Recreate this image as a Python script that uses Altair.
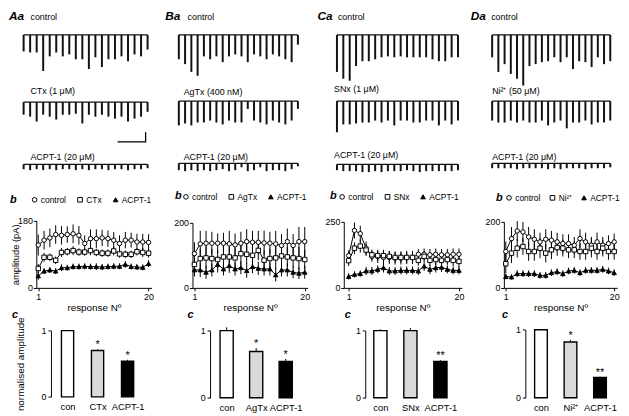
import altair as alt
import pandas as pd

FONT = "Liberation Sans"
W, H = 621, 408
SX = 621 / 628
SY = 408 / 414

resp = list(range(1, 21))

# ---------------- traces: spike depth per response ----------------
A_tr_control = [17, 18, 18, 37, 22, 18, 22, 20, 25, 25, 35, 23, 33, 25, 25, 22, 27, 20, 22, 15]
A_tr_drug = [13, 15, 20, 13, 15, 18, 13, 13, 12, 22, 13, 15, 13, 15, 17, 15, 20, 17, 15, 10]
A_tr_acpt = [5, 6, 5, 6, 5, 6, 5, 5, 6, 5, 6, 5, 5, 6, 5, 5, 6, 5, 5, 4]
B_tr_control = [25, 30, 38, 42, 22, 25, 22, 28, 22, 20, 22, 28, 20, 22, 25, 20, 22, 25, 28, 10]
B_tr_drug = [25, 23, 25, 22, 22, 20, 22, 24, 20, 22, 22, 8, 20, 22, 24, 20, 22, 24, 20, 8]
B_tr_acpt = [7, 8, 7, 8, 7, 8, 7, 6, 8, 7, 4, 8, 7, 4, 8, 7, 7, 8, 6, 3]
C_tr_control = [38, 45, 47, 32, 27, 27, 25, 23, 22, 23, 22, 23, 23, 23, 23, 25, 27, 27, 23, 23]
C_tr_drug = [32, 24, 24, 23, 22, 22, 20, 22, 20, 25, 20, 20, 22, 22, 20, 20, 25, 20, 24, 20]
C_tr_acpt = [6, 7, 7, 7, 8, 8, 7, 8, 7, 7, 7, 6, 7, 8, 7, 7, 7, 7, 7, 6]
D_tr_control = [23, 38, 30, 40, 45, 52, 32, 30, 28, 27, 23, 28, 23, 35, 27, 28, 33, 23, 30, 27]
D_tr_drug = [20, 22, 22, 20, 22, 20, 22, 22, 20, 25, 22, 20, 28, 22, 22, 20, 24, 22, 22, 20]
D_tr_acpt = [5, 5, 5, 5, 6, 5, 5, 5, 5, 6, 5, 6, 5, 5, 5, 6, 5, 5, 5, 4]

# scale bar (in CTx trace units)
sb_x = [15.4, 19.7, 19.7]
sb_y = [41, 41, 31]

# ---------------- amplitude vs response (pA) ----------------
A_ctrl = [115, 128, 134, 143, 141, 143, 145, 141, 119, 132, 132, 134, 132, 128, 119, 128, 128, 123, 123, 122]
A_ctrl_err = [28, 25, 25, 25, 25, 22, 25, 25, 22, 25, 25, 22, 22, 22, 22, 22, 20, 22, 22, 22]
A_drug = [52, 82, 82, 74, 95, 97, 100, 96, 96, 100, 95, 93, 93, 99, 91, 90, 90, 97, 95, 93]
A_drug_err = [12, 12, 10, 10, 12, 10, 12, 10, 10, 12, 10, 10, 10, 12, 10, 10, 10, 10, 12, 12]
A_acpt = [32, 45, 48, 45, 54, 54, 57, 57, 58, 57, 57, 56, 57, 58, 58, 63, 57, 56, 55, 65]
A_acpt_err = [10, 8, 8, 8, 9, 8, 8, 8, 8, 8, 9, 8, 8, 8, 8, 9, 8, 8, 8, 9]

B_ctrl = [105, 135, 137, 137, 137, 137, 135, 132, 137, 142, 140, 140, 138, 137, 135, 130, 142, 130, 142, 142]
B_ctrl_err = [35, 40, 38, 35, 30, 32, 40, 35, 35, 38, 35, 35, 38, 35, 40, 35, 40, 35, 45, 45]
B_drug = [72, 90, 92, 90, 87, 95, 95, 92, 105, 103, 100, 115, 85, 90, 92, 98, 95, 92, 90, 87]
B_drug_err = [30, 30, 35, 30, 28, 35, 30, 30, 35, 30, 35, 30, 30, 30, 35, 30, 30, 30, 35, 30]
B_acpt = [55, 55, 48, 55, 72, 58, 68, 58, 62, 53, 65, 60, 58, 58, 40, 55, 55, 48, 45, 48]
B_acpt_err = [20, 22, 20, 20, 25, 20, 22, 20, 20, 22, 20, 20, 20, 20, 20, 20, 20, 18, 18, 20]

C_ctrl = [122, 217, 205, 150, 119, 119, 115, 115, 113, 113, 115, 115, 127, 127, 125, 127, 125, 125, 127, 127]
C_ctrl_err = [20, 30, 30, 25, 20, 25, 25, 25, 25, 25, 25, 25, 20, 22, 22, 22, 22, 22, 22, 22]
C_drug = [103, 150, 158, 143, 125, 122, 122, 119, 115, 115, 115, 115, 104, 119, 104, 107, 104, 107, 104, 100]
C_drug_err = [20, 22, 25, 22, 20, 20, 22, 20, 20, 20, 20, 20, 20, 20, 20, 20, 20, 20, 22, 22]
C_acpt = [43, 51, 54, 64, 64, 70, 76, 64, 64, 66, 66, 66, 64, 82, 70, 76, 78, 70, 66, 66]
C_acpt_err = [12, 12, 12, 15, 15, 15, 18, 15, 15, 15, 15, 15, 15, 18, 18, 18, 18, 15, 15, 15]

D_ctrl = [110, 149, 172, 169, 154, 147, 139, 147, 144, 139, 134, 134, 129, 149, 139, 129, 139, 129, 134, 139]
D_ctrl_err = [30, 35, 30, 30, 30, 30, 28, 30, 28, 28, 28, 28, 25, 28, 28, 25, 28, 25, 25, 25]
D_drug = [73, 105, 120, 125, 110, 110, 120, 105, 115, 122, 120, 115, 115, 110, 110, 120, 110, 120, 110, 110]
D_drug_err = [30, 30, 28, 25, 28, 28, 30, 28, 28, 25, 25, 25, 25, 25, 25, 28, 25, 25, 25, 25]
D_acpt = [34, 33, 43, 43, 43, 43, 38, 38, 46, 49, 43, 51, 53, 46, 53, 53, 53, 56, 51, 46]
D_acpt_err = [8, 8, 10, 10, 10, 10, 10, 10, 10, 10, 10, 10, 10, 10, 10, 10, 10, 10, 10, 10]

# ---------------- normalised amplitude bars ----------------
A_cats = ["con", "CTx", "ACPT-1"]
A_bar = [1.0, 0.70, 0.54]
A_bar_err = [0.01, 0.02, 0.02]
A_sig = ["", "*", "*"]
B_cats = ["con", "AgTx", "ACPT-1"]
B_bar = [1.0, 0.69, 0.54]
B_bar_err = [0.05, 0.05, 0.04]
B_sig = ["", "*", "*"]
C_cats = ["con", "SNx", "ACPT-1"]
C_bar = [1.0, 1.0, 0.54]
C_bar_err = [0.02, 0.04, 0.02]
C_sig = ["", "", "**"]
D_cats = ["con", "Ni²⁺", "ACPT-1"]
D_bar = [1.0, 0.82, 0.30]
D_bar_err = [0.01, 0.03, 0.01]
D_sig = ["", "*", "**"]


def PX(v):
    return (v - 1) * SX


def PY(v):
    return (v - 2) * SY


dummy = pd.DataFrame({"a": [0]})
layers = []


def text(label, x, y, size=9, bold=False, italic=False):
    mk = dict(text=label, font=FONT, fontSize=size, align="left", baseline="middle", color="black")
    if bold:
        mk["fontWeight"] = "bold"
    if italic:
        mk["fontStyle"] = "italic"
    layers.append(alt.Chart(dummy).mark_text(**mk).encode(x=alt.value(PX(x)), y=alt.value(PY(y))))


def trace(amps, x1, x20, base):
    df = pd.DataFrame({"i": resp, "amp": amps, "zero": [0] * 20})
    xs = alt.Scale(domain=[1, 20], range=[PX(x1), PX(x20)], nice=False, zero=False)
    ys = alt.Scale(domain=[0, 50], range=[PY(base), PY(base) + 50 * SY], nice=False, zero=False)
    c = alt.Chart(df)
    layers.append(c.mark_line(color="#111", strokeWidth=1.2).encode(
        x=alt.X("i:Q", scale=xs, axis=None), y=alt.Y("zero:Q", scale=ys, axis=None)))
    layers.append(c.mark_rule(color="#111", strokeWidth=2).encode(
        x=alt.X("i:Q", scale=xs, axis=None), y=alt.Y("zero:Q", scale=ys, axis=None), y2="amp:Q"))
    return xs, ys


def line_panel(names, vals, errs, ymax, axis_x, px1, px20, y0, ytop, leg_x, leg_y, ytitle=None, colpad=8):
    rows = []
    for n, v, e in zip(names, vals, errs):
        for i, a, b in zip(resp, v, e):
            rows.append({"series": n, "i": i, "v": a, "lo": a - b, "hi": a + b})
    df = pd.DataFrame(rows)
    unit = (px20 - px1) / 19
    dmin = 1 - (px1 - axis_x) / unit
    dmax = 20 + 3 / unit
    xs = alt.Scale(domain=[dmin, dmax], range=[PX(axis_x), PX(px20 + 3)], nice=False, zero=False)
    ys = alt.Scale(domain=[0, ymax], range=[PY(y0), PY(ytop)], nice=False, zero=False)
    xaxis = alt.Axis(orient="bottom", offset=PY(y0) - H, values=[1, 20], title="response Nº",
                     grid=False, labelPadding=2, titlePadding=1, tickSize=3)
    yargs = dict(orient="left", offset=-PX(axis_x), values=[0, ymax], grid=False,
                 labelPadding=1, tickSize=3)
    if ytitle:
        yargs.update(title=ytitle, titlePadding=-3, titleFontSize=9.5)
    else:
        yargs.update(title=None)
    yaxis = alt.Axis(**yargs)
    c = alt.Chart(df)
    layers.append(c.mark_rule(color="black", strokeWidth=1).encode(
        x=alt.X("i:Q", scale=xs, axis=xaxis), y=alt.Y("lo:Q", scale=ys, axis=yaxis), y2="hi:Q"))
    layers.append(c.mark_line(color="black", strokeWidth=1).encode(
        x=alt.X("i:Q", scale=xs, axis=None), y=alt.Y("v:Q", scale=ys, axis=None), detail="series:N"))
    leg = dict(orient="none", legendX=PX(leg_x), legendY=PY(leg_y), direction="horizontal",
               title=None, labelFont=FONT, labelFontSize=8.5, labelColor="black", symbolSize=22,
               symbolStrokeWidth=1, columnPadding=colpad, labelOffset=2, padding=0)
    layers.append(c.mark_point(filled=True, strokeWidth=1, size=20, opacity=1).encode(
        x=alt.X("i:Q", scale=xs, axis=None), y=alt.Y("v:Q", scale=ys, axis=None),
        shape=alt.Shape("series:N", scale=alt.Scale(domain=names, range=["circle", "square", "triangle-up"]),
                        legend=alt.Legend(**leg)),
        fill=alt.Fill("series:N", scale=alt.Scale(domain=names, range=["white", "white", "black"]),
                      legend=alt.Legend(**leg)),
        stroke=alt.Stroke("series:N", scale=alt.Scale(domain=names, range=["black", "black", "black"]),
                          legend=alt.Legend(**leg))))


def bar_panel(cats, means, errs, sig, axis_x, c1, c3, y0, y1, bw, ytitle=None):
    df = pd.DataFrame({"cat": cats, "m": means, "hi": [m + e for m, e in zip(means, errs)], "sig": sig})
    xs = alt.Scale(type="point", domain=cats, range=[PX(c1), PX(c3)], padding=0)
    ys = alt.Scale(domain=[0, 1], range=[PY(y0), PY(y1)], nice=False, zero=False)
    xaxis = alt.Axis(orient="bottom", offset=PY(y0) - H, domain=False, ticks=False, labelAngle=0,
                     labelPadding=5, title=None, labelFontSize=9.5)
    yargs = dict(orient="left", offset=-PX(axis_x), values=[0, 1], format="d", grid=False,
                 labelPadding=2, tickSize=3)
    if ytitle:
        yargs.update(title=ytitle, titlePadding=16)
    else:
        yargs.update(title=None)
    yaxis = alt.Axis(**yargs)
    c = alt.Chart(df)
    layers.append(c.mark_rule(color="black", strokeWidth=1).encode(
        x=alt.X("cat:N", scale=xs, axis=None), y=alt.Y("m:Q", scale=ys, axis=None), y2="hi:Q"))
    layers.append(c.mark_bar(width=bw * SX, stroke="black", strokeWidth=1.4).encode(
        x=alt.X("cat:N", scale=xs, axis=xaxis, sort=cats), y=alt.Y("m:Q", scale=ys, axis=yaxis),
        fill=alt.Fill("cat:N", scale=alt.Scale(domain=cats, range=["white", "#d9d9d9", "black"]), legend=None)))
    layers.append(c.mark_text(baseline="alphabetic", dy=-1, fontSize=11, font=FONT, color="black").encode(
        x=alt.X("cat:N", scale=xs, axis=None), y=alt.Y("hi:Q", scale=ys, axis=None), text="sig:N"))


# ---------- column A ----------
text("Aa", 2, 8, 12, True, True)
text("control", 24, 9)
trace(A_tr_control, 17, 144, 27)
text("CTx (1 μM)", 24, 85)
xs_a, ys_a = trace(A_tr_drug, 17, 144, 96)
layers.append(alt.Chart(pd.DataFrame({"x": sb_x, "y": sb_y, "o": [0, 1, 2]})).mark_line(
    color="black", strokeWidth=1.3).encode(
    x=alt.X("x:Q", scale=xs_a, axis=None), y=alt.Y("y:Q", scale=ys_a, axis=None), order="o:Q"))
text("ACPT-1 (20 μM)", 24, 152)
trace(A_tr_acpt, 17, 144, 160)
text("b", 3, 197, 11, True, True)
line_panel(["control", "CTx", "ACPT-1"], [A_ctrl, A_drug, A_acpt], [A_ctrl_err, A_drug_err, A_acpt_err],
           180, 30, 32, 145, 287, 218, 24, 192, ytitle="amplitude (pA)")
text("c", 5, 315, 11, True, True)
bar_panel(A_cats, A_bar, A_bar_err, A_sig, 45, 62, 123.5, 399, 331, 12.5, ytitle="normalised amplitude")

# ---------- column B ----------
text("Ba", 162, 8, 12, True, True)
text("control", 185, 9)
trace(B_tr_control, 176, 298, 27)
text("AgTx (400 nM)", 181, 86)
trace(B_tr_drug, 176, 298, 95)
text("ACPT-1 (20 μM)", 181, 152)
trace(B_tr_acpt, 176, 298, 159)
text("b", 172, 193, 11, True, True)
line_panel(["control", "AgTx", "ACPT-1"], [B_ctrl, B_drug, B_acpt], [B_ctrl_err, B_drug_err, B_acpt_err],
           200, 190, 192, 305, 287, 220, 179, 189)
text("c", 185, 315, 11, True, True)
bar_panel(B_cats, B_bar, B_bar_err, B_sig, 208, 225, 285.5, 400, 331, 13.5)

# ---------- column C ----------
text("Ca", 318, 8, 12, True, True)
text("control", 339, 9)
trace(C_tr_control, 338, 462, 27)
text("SNx (1 μM)", 335, 83)
trace(C_tr_drug, 338, 462, 95)
text("ACPT-1 (20 μM)", 335, 150)
trace(C_tr_acpt, 338, 462, 160)
text("b", 331, 193, 11, True, True)
line_panel(["control", "SNx", "ACPT-1"], [C_ctrl, C_drug, C_acpt], [C_ctrl_err, C_drug_err, C_acpt_err],
           250, 345, 350, 463, 287, 219, 339, 189)
text("c", 346, 315, 11, True, True)
bar_panel(C_cats, C_bar, C_bar_err, C_sig, 367, 382.5, 444, 400, 331, 13.5)

# ---------- column D ----------
text("Da", 475, 8, 12, True, True)
text("control", 496, 9)
trace(D_tr_control, 497, 618, 27)
text("Ni²⁺ (50 μM)", 497, 85)
trace(D_tr_drug, 497, 618, 95)
text("ACPT-1 (20 μM)", 497, 152)
trace(D_tr_acpt, 497, 618, 159)
text("b", 501, 195, 11, True, True)
line_panel(["control", "Ni²⁺", "ACPT-1"], [D_ctrl, D_drug, D_acpt], [D_ctrl_err, D_drug_err, D_acpt_err],
           200, 509, 511, 622, 287, 219, 510, 190, colpad=6)
text("c", 507, 315, 11, True, True)
bar_panel(D_cats, D_bar, D_bar_err, D_sig, 531, 547, 607.5, 400, 330, 13)

chart = alt.layer(*layers).properties(
    width=W, height=H, padding=0, autosize=alt.AutoSizeParams(type="none")
).resolve_scale(
    x="independent", y="independent", shape="independent", fill="independent", stroke="independent"
).resolve_axis(
    x="independent", y="independent"
).resolve_legend(
    shape="independent", fill="independent", stroke="independent"
).configure_view(stroke=None).configure_axis(
    labelFont=FONT, labelFontSize=9, labelColor="black", tickColor="black", domainColor="black",
    titleFont=FONT, titleFontSize=10, titleFontWeight="normal", titleColor="black", domainWidth=1
)

chart.save("out.html", embed_options={"renderer": "svg", "actions": False})
